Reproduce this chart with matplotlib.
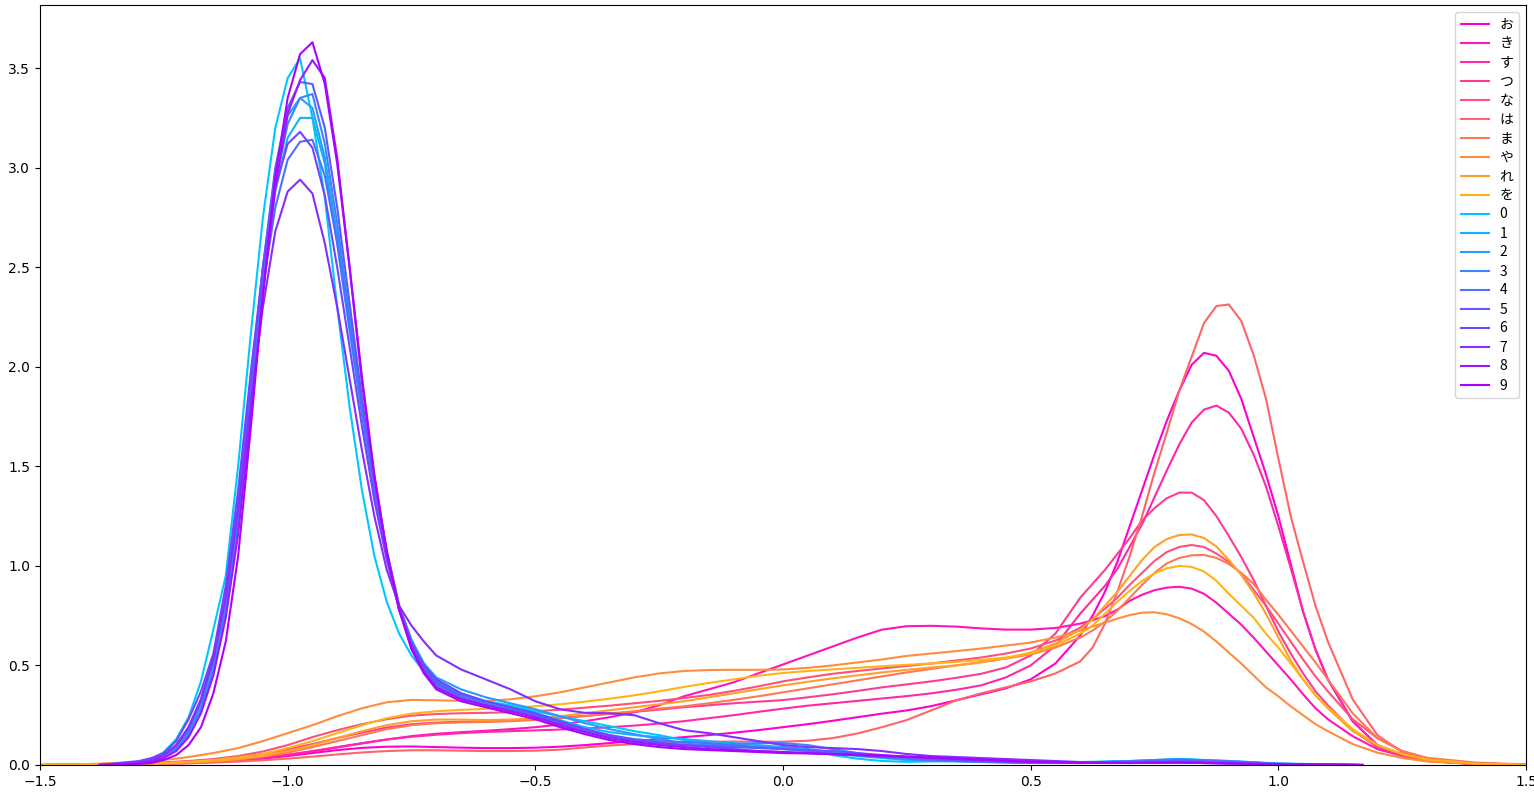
import matplotlib
matplotlib.use("Agg")
import matplotlib.pyplot as plt

# x grid used for the kana curves
xk = [-1.5, -1.4, -1.3, -1.25, -1.2, -1.15, -1.1, -1.05, -1.0, -0.95, -0.9, -0.85, -0.8, -0.75,
      -0.7, -0.65, -0.6, -0.55, -0.5, -0.45, -0.4, -0.35, -0.3, -0.25, -0.2, -0.15, -0.1, -0.05,
      0.0, 0.05, 0.1, 0.15, 0.2, 0.25, 0.3, 0.35, 0.4, 0.45, 0.5, 0.55, 0.6, 0.625, 0.65, 0.675,
      0.7, 0.725, 0.75, 0.775, 0.8, 0.825, 0.85, 0.875, 0.9, 0.925, 0.95, 0.975, 1.0, 1.025, 1.05,
      1.075, 1.1, 1.15, 1.2, 1.25, 1.3, 1.4, 1.5]

# x grid used for the digit curves
xd = [-1.38, -1.30, -1.275, -1.25, -1.225, -1.20, -1.175, -1.15, -1.125, -1.10, -1.075, -1.05,
      -1.025, -1.00, -0.975, -0.95, -0.925, -0.90, -0.875, -0.85, -0.825, -0.80, -0.775, -0.75,
      -0.725, -0.70, -0.65, -0.60, -0.55, -0.50, -0.45, -0.40, -0.35, -0.30, -0.25, -0.20, -0.15,
      -0.10, -0.05, 0.0, 0.05, 0.10, 0.15, 0.20, 0.25, 0.30, 0.35, 0.40, 0.45, 0.50, 0.60, 0.70,
      0.80, 0.90, 1.00, 1.17]

kana_labels = ["お", "き", "す", "つ", "な", "は", "ま", "や", "れ", "を"]
digit_labels = ["0", "1", "2", "3", "4", "5", "6", "7", "8", "9"]

kana_colors = ["#ff00d2", "#ff14bd", "#ff28a8", "#ff3c93", "#ff507e",
               "#ff6469", "#ff7854", "#ff8c3f", "#ffa02a", "#ffb415"]
digit_colors = ["#00c8ff", "#13b2ff", "#269cff", "#3986ff", "#4c70ff",
                "#5f5aff", "#7244ff", "#852eff", "#9818ff", "#ab02ff"]

y_o = [0, 0.001, 0.004, 0.006, 0.01, 0.015, 0.022, 0.032, 0.045, 0.06, 0.075, 0.086, 0.092, 0.093,
       0.09, 0.087, 0.085, 0.085, 0.087, 0.092, 0.10, 0.11, 0.12, 0.13, 0.14, 0.15, 0.162, 0.175,
       0.19, 0.205, 0.222, 0.24, 0.258, 0.274, 0.296, 0.325, 0.355, 0.385, 0.43, 0.51, 0.65, 0.75,
       0.87, 1.02, 1.20, 1.38, 1.56, 1.73, 1.88, 2.01, 2.07, 2.055, 1.98, 1.84, 1.65, 1.46, 1.25,
       1.01, 0.77, 0.58, 0.43, 0.22, 0.10, 0.045, 0.02, 0.004, 0.001]
y_ki = [0, 0.002, 0.005, 0.008, 0.012, 0.018, 0.026, 0.036, 0.05, 0.068, 0.088, 0.108, 0.128, 0.145,
        0.157, 0.165, 0.172, 0.18, 0.19, 0.203, 0.22, 0.24, 0.265, 0.30, 0.345, 0.38, 0.415, 0.46,
        0.505, 0.55, 0.595, 0.64, 0.68, 0.697, 0.699, 0.695, 0.686, 0.68, 0.68, 0.688, 0.71, 0.727,
        0.748, 0.78, 0.825, 0.855, 0.878, 0.891, 0.895, 0.886, 0.86, 0.815, 0.76, 0.705, 0.64, 0.57,
        0.50, 0.43, 0.355, 0.285, 0.23, 0.145, 0.08, 0.045, 0.022, 0.005, 0.001]
y_su = [0, 0.002, 0.005, 0.008, 0.012, 0.018, 0.026, 0.037, 0.052, 0.07, 0.09, 0.11, 0.128, 0.142,
        0.152, 0.16, 0.166, 0.17, 0.174, 0.178, 0.183, 0.19, 0.198, 0.208, 0.22, 0.235, 0.25, 0.267,
        0.283, 0.298, 0.31, 0.322, 0.334, 0.346, 0.36, 0.378, 0.40, 0.44, 0.50, 0.60, 0.76, 0.83,
        0.90, 0.985, 1.096, 1.21, 1.345, 1.48, 1.61, 1.72, 1.785, 1.805, 1.77, 1.69, 1.56, 1.40,
        1.20, 0.99, 0.77, 0.58, 0.43, 0.22, 0.10, 0.045, 0.02, 0.005, 0.001]
y_tsu = [0, 0.003, 0.007, 0.011, 0.017, 0.026, 0.038, 0.055, 0.078, 0.105, 0.135, 0.163, 0.188,
         0.205, 0.213, 0.217, 0.22, 0.224, 0.23, 0.238, 0.247, 0.257, 0.267, 0.278, 0.29, 0.30, 0.31,
         0.318, 0.326, 0.34, 0.355, 0.372, 0.39, 0.405, 0.42, 0.438, 0.458, 0.49, 0.55, 0.66, 0.84,
         0.91, 0.98, 1.06, 1.14, 1.228, 1.29, 1.34, 1.368, 1.368, 1.33, 1.25, 1.15, 1.045, 0.93, 0.80,
         0.67, 0.56, 0.46, 0.37, 0.30, 0.175, 0.09, 0.045, 0.022, 0.005, 0.001]
y_na = [0, 0.003, 0.008, 0.013, 0.02, 0.03, 0.045, 0.068, 0.10, 0.14, 0.175, 0.205, 0.23, 0.248,
        0.256, 0.26, 0.262, 0.265, 0.27, 0.278, 0.288, 0.298, 0.31, 0.322, 0.336, 0.352, 0.372, 0.395,
        0.42, 0.44, 0.458, 0.472, 0.485, 0.497, 0.51, 0.525, 0.54, 0.56, 0.585, 0.625, 0.69, 0.735,
        0.785, 0.84, 0.905, 0.965, 1.025, 1.07, 1.095, 1.105, 1.095, 1.062, 1.02, 0.96, 0.88, 0.80,
        0.71, 0.62, 0.53, 0.445, 0.37, 0.23, 0.135, 0.07, 0.034, 0.008, 0.002]
y_ha = [0, 0.001, 0.003, 0.005, 0.008, 0.012, 0.017, 0.024, 0.032, 0.042, 0.053, 0.063, 0.07, 0.074,
        0.074, 0.072, 0.07, 0.07, 0.072, 0.077, 0.088, 0.098, 0.105, 0.11, 0.114, 0.117, 0.118, 0.117,
        0.117, 0.122, 0.135, 0.158, 0.19, 0.226, 0.275, 0.325, 0.36, 0.39, 0.42, 0.46, 0.52, 0.59,
        0.71, 0.87, 1.05, 1.25, 1.47, 1.67, 1.88, 2.05, 2.22, 2.305, 2.313, 2.231, 2.06, 1.84, 1.54,
        1.25, 1.02, 0.80, 0.62, 0.33, 0.15, 0.065, 0.03, 0.008, 0.002]
y_ma = [0, 0.002, 0.005, 0.008, 0.012, 0.018, 0.028, 0.042, 0.062, 0.09, 0.12, 0.15, 0.18, 0.20,
        0.21, 0.214, 0.216, 0.22, 0.226, 0.234, 0.245, 0.258, 0.27, 0.283, 0.295, 0.31, 0.327, 0.345,
        0.365, 0.385, 0.405, 0.425, 0.445, 0.465, 0.483, 0.50, 0.517, 0.535, 0.555, 0.59, 0.64, 0.675,
        0.72, 0.775, 0.84, 0.905, 0.965, 1.013, 1.04, 1.053, 1.055, 1.04, 1.01, 0.965, 0.91, 0.83,
        0.755, 0.675, 0.595, 0.515, 0.43, 0.26, 0.135, 0.07, 0.036, 0.012, 0.003]
y_ya = [0, 0.005, 0.015, 0.025, 0.04, 0.06, 0.085, 0.12, 0.16, 0.20, 0.245, 0.285, 0.315, 0.327,
        0.325, 0.322, 0.322, 0.33, 0.345, 0.365, 0.39, 0.415, 0.44, 0.46, 0.472, 0.477, 0.478, 0.478,
        0.48, 0.488, 0.50, 0.515, 0.53, 0.548, 0.56, 0.572, 0.585, 0.60, 0.615, 0.64, 0.675, 0.695,
        0.715, 0.735, 0.753, 0.765, 0.767, 0.757, 0.737, 0.708, 0.67, 0.62, 0.565, 0.51, 0.45, 0.39,
        0.345, 0.295, 0.25, 0.205, 0.17, 0.105, 0.062, 0.035, 0.018, 0.005, 0.001]
y_re = [0, 0.002, 0.005, 0.008, 0.013, 0.02, 0.03, 0.045, 0.07, 0.10, 0.135, 0.17, 0.20, 0.22,
        0.228, 0.228, 0.226, 0.228, 0.235, 0.245, 0.26, 0.275, 0.29, 0.305, 0.32, 0.34, 0.36, 0.38,
        0.40, 0.418, 0.435, 0.45, 0.465, 0.478, 0.49, 0.50, 0.515, 0.535, 0.565, 0.61, 0.68, 0.73,
        0.80, 0.87, 0.95, 1.03, 1.095, 1.135, 1.155, 1.158, 1.14, 1.097, 1.03, 0.955, 0.865, 0.76,
        0.64, 0.525, 0.43, 0.35, 0.285, 0.17, 0.10, 0.055, 0.028, 0.006, 0.001]
y_wo = [0, 0.002, 0.006, 0.01, 0.016, 0.025, 0.038, 0.055, 0.085, 0.12, 0.16, 0.20, 0.235, 0.258,
        0.27, 0.277, 0.282, 0.287, 0.295, 0.305, 0.318, 0.333, 0.35, 0.37, 0.392, 0.412, 0.43, 0.448,
        0.462, 0.472, 0.48, 0.488, 0.496, 0.503, 0.51, 0.518, 0.527, 0.54, 0.56, 0.60, 0.66, 0.70,
        0.76, 0.82, 0.875, 0.925, 0.962, 0.988, 1.0, 0.995, 0.972, 0.925, 0.86, 0.80, 0.74, 0.66,
        0.59, 0.51, 0.43, 0.35, 0.29, 0.18, 0.10, 0.055, 0.028, 0.006, 0.001]

y_0 = [0.0, 0.015, 0.03, 0.065, 0.13, 0.24, 0.42, 0.68, 0.95, 1.50, 2.15, 2.75, 3.20, 3.45, 3.55,
       3.25, 2.85, 2.30, 1.80, 1.38, 1.05, 0.82, 0.66, 0.55, 0.47, 0.41, 0.35, 0.32, 0.30, 0.27, 0.245,
       0.22, 0.195, 0.17, 0.15, 0.125, 0.105, 0.095, 0.09, 0.085, 0.07, 0.05, 0.032, 0.02, 0.016,
       0.018, 0.02, 0.02, 0.018, 0.015, 0.015, 0.02, 0.03, 0.02, 0.008, 0.0]
y_1 = [0.0, 0.01, 0.02, 0.045, 0.09, 0.17, 0.30, 0.50, 0.80, 1.25, 1.85, 2.42, 2.88, 3.15, 3.25,
       3.25, 3.02, 2.62, 2.18, 1.76, 1.38, 1.07, 0.80, 0.63, 0.51, 0.43, 0.36, 0.32, 0.29, 0.26, 0.225,
       0.19, 0.165, 0.15, 0.14, 0.13, 0.12, 0.11, 0.10, 0.09, 0.075, 0.06, 0.045, 0.035, 0.025, 0.02,
       0.018, 0.016, 0.015, 0.013, 0.012, 0.018, 0.028, 0.018, 0.006, 0.0]
y_2 = [0.0, 0.01, 0.02, 0.045, 0.09, 0.17, 0.31, 0.52, 0.83, 1.30, 1.90, 2.50, 2.98, 3.26, 3.35,
       3.30, 3.05, 2.66, 2.22, 1.78, 1.38, 1.06, 0.79, 0.62, 0.51, 0.44, 0.38, 0.34, 0.31, 0.28, 0.245,
       0.21, 0.18, 0.155, 0.13, 0.11, 0.095, 0.09, 0.09, 0.09, 0.08, 0.065, 0.05, 0.04, 0.03, 0.025,
       0.02, 0.017, 0.014, 0.012, 0.012, 0.02, 0.03, 0.02, 0.006, 0.0]
y_3 = [0.0, 0.008, 0.018, 0.04, 0.08, 0.155, 0.28, 0.48, 0.78, 1.22, 1.82, 2.42, 2.92, 3.22, 3.35,
       3.37, 3.12, 2.72, 2.26, 1.80, 1.39, 1.06, 0.78, 0.60, 0.48, 0.40, 0.33, 0.30, 0.28, 0.25, 0.21,
       0.17, 0.14, 0.12, 0.105, 0.10, 0.10, 0.105, 0.11, 0.11, 0.10, 0.08, 0.06, 0.045, 0.035, 0.025,
       0.02, 0.015, 0.012, 0.01, 0.01, 0.015, 0.022, 0.015, 0.005, 0.0]
y_4 = [0.0, 0.012, 0.025, 0.05, 0.10, 0.19, 0.33, 0.54, 0.85, 1.30, 1.86, 2.40, 2.80, 3.04, 3.13,
       3.14, 2.96, 2.62, 2.20, 1.78, 1.38, 1.06, 0.80, 0.62, 0.50, 0.42, 0.35, 0.31, 0.28, 0.25, 0.215,
       0.18, 0.15, 0.13, 0.12, 0.115, 0.11, 0.10, 0.09, 0.08, 0.07, 0.06, 0.05, 0.04, 0.032, 0.025,
       0.02, 0.017, 0.015, 0.013, 0.012, 0.018, 0.026, 0.018, 0.006, 0.0]
y_5 = [0.0, 0.01, 0.022, 0.048, 0.095, 0.18, 0.32, 0.53, 0.84, 1.30, 1.90, 2.50, 3.00, 3.30, 3.43,
       3.42, 3.20, 2.80, 2.32, 1.84, 1.42, 1.08, 0.80, 0.61, 0.49, 0.41, 0.34, 0.30, 0.275, 0.245,
       0.21, 0.175, 0.145, 0.125, 0.11, 0.10, 0.095, 0.09, 0.085, 0.08, 0.075, 0.07, 0.06, 0.05, 0.04,
       0.03, 0.025, 0.02, 0.015, 0.012, 0.01, 0.015, 0.02, 0.015, 0.005, 0.0]
y_6 = [0.0, 0.02, 0.035, 0.06, 0.12, 0.23, 0.37, 0.56, 0.90, 1.38, 1.96, 2.50, 2.90, 3.12, 3.18,
       3.10, 2.86, 2.50, 2.10, 1.70, 1.33, 1.03, 0.78, 0.61, 0.50, 0.43, 0.36, 0.32, 0.29, 0.26, 0.22,
       0.18, 0.15, 0.125, 0.11, 0.10, 0.09, 0.08, 0.07, 0.065, 0.06, 0.055, 0.05, 0.045, 0.04, 0.035,
       0.03, 0.025, 0.02, 0.016, 0.012, 0.012, 0.015, 0.01, 0.004, 0.0]
y_7 = [0.0, 0.012, 0.025, 0.05, 0.10, 0.19, 0.33, 0.54, 0.84, 1.28, 1.80, 2.30, 2.68, 2.88, 2.94,
       2.87, 2.62, 2.30, 1.94, 1.58, 1.25, 0.98, 0.80, 0.70, 0.62, 0.55, 0.48, 0.43, 0.38, 0.32, 0.28,
       0.262, 0.26, 0.25, 0.21, 0.175, 0.16, 0.14, 0.12, 0.10, 0.09, 0.085, 0.08, 0.07, 0.055, 0.045,
       0.04, 0.035, 0.03, 0.025, 0.015, 0.01, 0.012, 0.008, 0.003, 0.0]
y_8 = [0.0, 0.008, 0.016, 0.035, 0.07, 0.14, 0.26, 0.45, 0.74, 1.16, 1.74, 2.36, 2.90, 3.27, 3.44,
       3.54, 3.45, 3.05, 2.50, 1.92, 1.45, 1.07, 0.78, 0.59, 0.47, 0.39, 0.33, 0.30, 0.27, 0.24, 0.20,
       0.165, 0.135, 0.115, 0.10, 0.09, 0.08, 0.075, 0.07, 0.065, 0.06, 0.055, 0.05, 0.045, 0.04,
       0.035, 0.03, 0.025, 0.02, 0.015, 0.01, 0.01, 0.012, 0.008, 0.003, 0.0]
y_9 = [0.0, 0.005, 0.01, 0.025, 0.05, 0.10, 0.19, 0.36, 0.62, 1.05, 1.68, 2.36, 2.95, 3.35, 3.57,
       3.63, 3.42, 3.02, 2.50, 1.95, 1.46, 1.07, 0.78, 0.58, 0.46, 0.38, 0.32, 0.29, 0.26, 0.23, 0.19,
       0.155, 0.125, 0.105, 0.09, 0.08, 0.075, 0.07, 0.065, 0.06, 0.058, 0.055, 0.052, 0.048, 0.043,
       0.038, 0.033, 0.028, 0.022, 0.017, 0.012, 0.01, 0.012, 0.008, 0.003, 0.0]

kana_curves = [y_o, y_ki, y_su, y_tsu, y_na, y_ha, y_ma, y_ya, y_re, y_wo]
digit_curves = [y_0, y_1, y_2, y_3, y_4, y_5, y_6, y_7, y_8, y_9]

fig = plt.figure(figsize=(15.34, 7.92), dpi=100)
ax = fig.add_axes([40 / 1534, 27 / 792, 1486 / 1534, 760 / 792])

for lab, col, ys in zip(kana_labels, kana_colors, kana_curves):
    ax.plot(xk, ys, color=col, label=lab)
for lab, col, ys in zip(digit_labels, digit_colors, digit_curves):
    ax.plot(xd, ys, color=col, label=lab)

ax.set_xlim(-1.5, 1.5)
ax.set_ylim(0, 3.817)
ax.legend(loc="upper right", labelspacing=0.36,
          prop={"family": ["Noto Sans CJK JP", "DejaVu Sans"]})

fig.savefig("out.png", dpi=100)
